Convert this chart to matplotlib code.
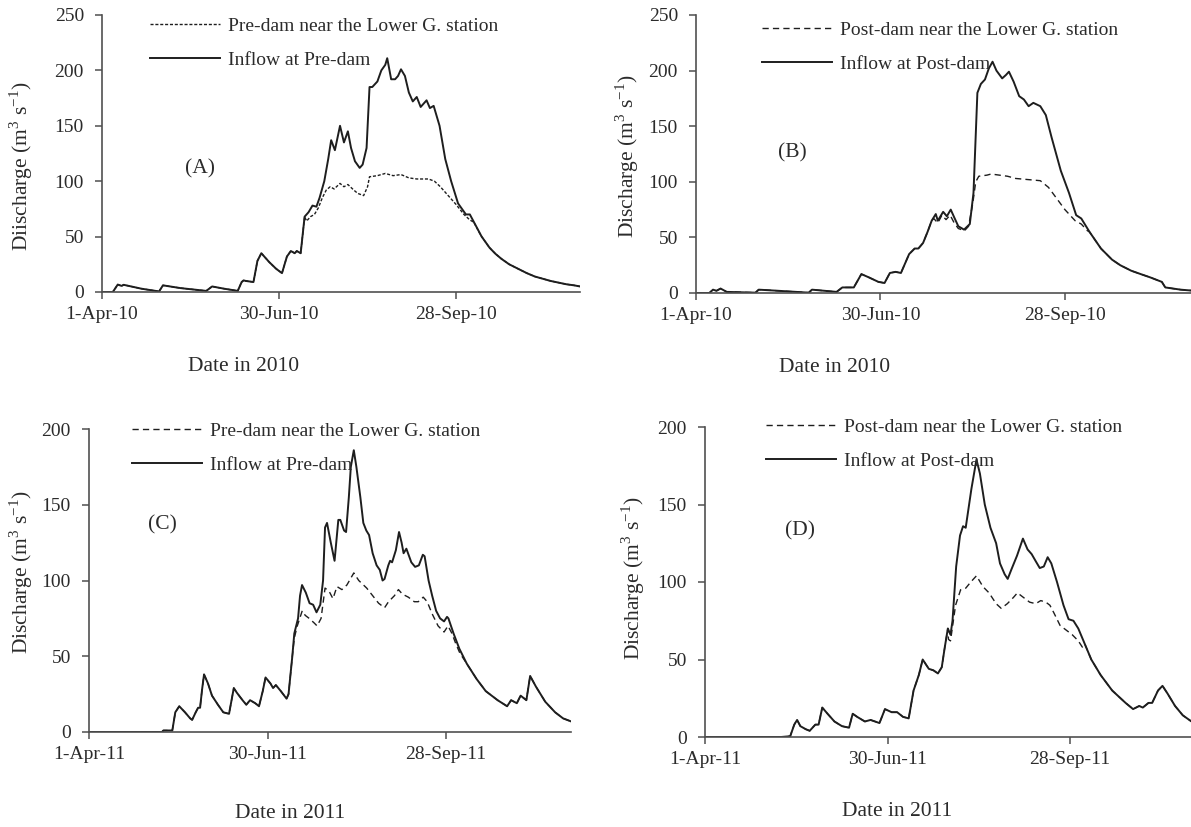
import numpy as np
import matplotlib
matplotlib.use("Agg")
import matplotlib.pyplot as plt
from matplotlib.lines import Line2D

plt.rcParams['font.family'] = ['Liberation Serif', 'DejaVu Serif']
plt.rcParams['mathtext.fontset'] = 'custom'
plt.rcParams['mathtext.rm'] = 'Liberation Serif'

W, H = 1191, 827

# days after 1 April, discharge in m3/s
tick_days = [0, 90, 180]
ticks_2010 = ['1-Apr-10', '30-Jun-10', '28-Sep-10']
ticks_2011 = ['1-Apr-11', '30-Jun-11', '28-Sep-11']

# ---- (A) 2010 pre-dam
A_in_day = [0, 5.5, 8, 10, 11, 20, 29, 31, 40, 53, 56, 62, 69, 71, 72, 73, 77, 79, 81, 85, 88.5,
            91.5, 94, 96, 98, 99, 101, 103, 105, 107, 109, 110.6, 113, 115, 116.5, 118.4, 121, 123,
            125, 126.6, 128.6, 131, 132.5, 134.5, 136, 137.4, 140, 142, 144, 145, 147, 149, 150.5,
            152, 154, 156, 158, 160, 162, 165, 166.7, 168.6, 171.6, 174.5, 177.5, 181, 185, 187,
            190, 193, 197, 200, 203, 207, 212.6, 216, 220, 224, 228, 232, 236, 240, 243]
A_in_q = [0, 0, 6.7, 5.5, 6.5, 3, 0.5, 6, 3.5, 1, 5, 3, 1, 9, 10.5, 10, 9, 28, 35, 27, 21,
          17, 32, 37, 35, 37, 35, 68, 72, 78, 77, 85, 100, 120, 137, 128, 150, 135,
          145, 130, 118, 112, 115, 130, 185, 185, 190, 200, 205, 211, 192, 192, 195,
          201, 195, 180, 172, 176, 167, 173, 166, 168, 150, 120, 100, 80, 70, 70,
          60, 50, 40, 34.5, 30, 25, 20, 17, 14, 12, 10, 8.5, 7, 6, 5]
A_low_day = [104, 106, 108, 110, 112, 114, 116, 118, 121, 123, 125, 128, 130, 133, 135, 136,
             140, 144, 148, 152, 156, 160, 166, 169, 172, 176, 180, 184, 187, 189, 192]
A_low_q = [64, 68, 70, 76, 85, 92, 95, 93, 98, 95, 97, 92, 89, 87, 95, 104,
           105, 107, 105, 106, 103, 102, 102, 100, 95, 87, 79, 70, 65, 63, 53]

# ---- (B) 2010 post-dam
B_in_day = [0, 6.5, 8.3, 10, 12, 15, 29, 30.6, 40, 55, 56.6, 68.6, 71.4, 77, 80.7, 84.4, 89, 92,
            94.6, 97.4, 100, 104, 106.7, 108.5, 110.8, 113, 115, 117, 118, 120.6, 122.4, 124.3,
            126, 128, 130.8, 133.6, 135.4, 137.3, 139, 141, 142.9, 144.7, 146.6, 149.4, 151.2,
            152.7, 155, 157.7, 160, 162.3, 164.6, 168, 170.7, 173.5, 178, 182, 185.5, 188, 192,
            197.6, 203, 207, 212.4, 217, 221.7, 227.3, 229, 236.5, 243]
B_in_q = [0, 0, 3, 2, 4, 1, 0.3, 3, 2, 0.3, 3, 1, 5, 5, 17, 14, 10, 9,
          18, 19, 18, 35, 40, 40, 45, 55, 65, 71, 65, 73, 69, 75,
          68, 60, 57, 62, 90, 180, 188, 192, 202, 208, 200, 193, 196,
          199, 190, 177, 174, 168, 171, 168, 160, 140, 110, 90, 70, 67, 55,
          40, 30, 25, 20, 17, 14, 10, 5, 3, 2]
B_low_day = [116, 118, 120, 122, 124, 126, 128, 131, 133, 135, 136.5, 138, 142, 144, 148, 152,
             156, 162, 168, 172, 176, 180, 185, 188, 191]
B_low_q = [67, 63, 70, 66, 70, 63, 58, 56, 60, 80, 100, 105, 106, 107, 106, 105,
           103, 102, 101, 95, 85, 75, 65, 62, 56]

# ---- (C) 2011 pre-dam
C_in_day = [0, 36.8, 37.5, 42, 43.5, 45.5, 48.4, 51, 52, 53.8, 55, 56, 57, 58, 60, 62, 65, 67.7,
            70.6, 73, 74.5, 77.4, 79.3, 81.2, 83.8, 85.7, 87.6, 89, 91.5, 92.8, 94.2, 96.7, 99.6,
            100.6, 102.5, 103.5, 105.4, 106.4, 107.4, 109.3, 111.2, 113, 114.7, 116.6, 118, 119,
            120, 121.9, 123.8, 125.7, 126.7, 128.6, 129.6, 131, 132, 133.5, 134.8, 136.8, 138.3,
            139.8, 141.2, 143, 145, 146.6, 148, 149, 150.9, 151.8, 152.8, 154.7, 156.3, 157.6,
            158.6, 160, 162.5, 164.4, 166.3, 168.3, 169.2, 171.2, 173, 175, 177, 179, 180.5,
            181.2, 183.8, 186.7, 190.5, 195.4, 200, 206, 210.8, 212.8, 215.7, 217.6, 220.5,
            222.4, 225.3, 230, 235, 239, 243]
C_in_q = [0, 0, 1, 1, 13, 17, 13, 9, 8, 13, 16, 16, 28, 38, 32, 24, 18, 13,
          12, 29, 26, 21, 18, 21, 19, 17, 27, 36, 32, 29, 31, 27, 22,
          25, 50, 65, 75, 90, 97, 92, 85, 84, 79, 84, 100, 135,
          138, 125, 113, 140, 140, 133, 132, 155, 175, 186, 175, 155, 138,
          133, 130, 118, 110, 107, 100, 101, 110, 113, 112, 120, 132, 125,
          118, 121, 112, 109, 110, 117, 116, 100, 90, 80, 75, 73, 76,
          75, 65, 55, 45, 35, 27, 21, 17, 21, 19, 24, 21,
          37, 30, 20, 13, 9, 7]
C_low_day = [103.5, 105, 107.5, 109, 111, 113.5, 115, 117, 119, 121, 123, 125, 127.5, 130, 133.5,
             136, 140, 143, 146, 149, 151, 154, 156, 158, 161, 164, 166, 168.5, 170.5, 173, 176,
             179, 181, 183, 185, 187]
C_low_q = [62, 70, 80, 77, 75, 72, 70, 75, 95, 93, 88, 96, 94, 97, 105,
           100, 95, 90, 85, 82, 86, 90, 94, 91, 89, 86, 86, 89, 86, 78, 70,
           66, 70, 65, 58, 52]

# ---- (D) 2011 post-dam
D_in_day = [0, 37.5, 42, 44, 45.4, 47, 49.7, 51.6, 54.4, 56, 57.8, 60.4, 63.8, 67.5, 71, 72.8, 75,
            78.8, 81.6, 86, 88.7, 92, 94.7, 97.6, 100.4, 102.8, 105.4, 107.3, 110.3, 112.6, 114.8,
            116.7, 118.2, 119.7, 121, 122, 123.8, 125.7, 127.2, 128.5, 131.3, 133.8, 135.5, 137.9,
            140.7, 143.5, 145.4, 147.7, 149.2, 151, 153.8, 156.7, 159, 161, 163.2, 165, 167, 168.9,
            170.7, 173.5, 176.7, 179.2, 181.6, 184, 187.2, 190.4, 195, 200.7, 207.3, 211, 214,
            215.8, 218.6, 220.4, 223.3, 225.5, 228, 231.7, 235.5, 239.8, 243]
D_in_q = [0, 0, 0.5, 8, 11, 7, 5, 4, 8, 8, 19, 15, 10, 7, 6, 15, 13,
          10, 11, 9, 18, 16, 16, 13, 12, 30, 40, 50, 44, 43, 41,
          45, 58, 70, 66, 75, 110, 130, 136, 135, 160, 179, 170, 150,
          135, 125, 112, 105, 102, 108, 117, 128, 121, 118, 113, 109, 110, 116,
          112, 100, 85, 76, 75, 70, 60, 50, 40, 30, 22, 18, 20,
          19, 22, 22, 30, 33, 28, 20, 14, 10, 8]
D_low_day = [120, 121, 123.5, 126, 128.5, 131, 133.8, 137, 140, 143.5, 146, 149, 152, 154, 157,
             160, 163, 165.5, 168, 170, 172, 175, 178, 181, 184, 186]
D_low_q = [63, 62, 85, 95, 96, 100, 104, 97, 93, 86, 83, 86, 90, 93, 90,
           87, 86, 88, 87, 85, 80, 72, 69, 66, 62, 58]


def lower_series(in_day, in_q, low_day, low_q):
    # below the divergence the two lines share the same values
    d = np.array(in_day)
    q = np.array(in_q)
    before = d < low_day[0]
    after = d > low_day[-1]
    days = np.concatenate([d[before], low_day, d[after]])
    vals = np.concatenate([q[before], low_q, q[after]])
    return days, vals


panels = [
    dict(d=(A_in_day, A_in_q, A_low_day, A_low_q), ymax=250, ystep=50, tl=ticks_2010, tag='(A)',
         tagpos=(50, 111), yl='Diischarge (m$^3$ s$^{-1}$)',
         leg=('Pre-dam near the Lower G. station', 'Inflow at Pre-dam'),
         box=(102, 580, 15, 292), dash=(0, (2.2, 1.3)), ylp=(21, 166), xlp=(244, 367), lp=(150, 17),
         xl='Date in 2010'),
    dict(d=(B_in_day, B_in_q, B_low_day, B_low_q), ymax=250, ystep=50, tl=ticks_2010, tag='(B)',
         tagpos=(47, 126), yl='Discharge (m$^3$ s$^{-1}$)',
         leg=('Post-dam near the Lower G. station', 'Inflow at Post-dam'),
         box=(696, 1194, 15, 293), dash=(0, (4.5, 3)), ylp=(627, 156), xlp=(835, 368), lp=(762, 21),
         xl='Date in 2010'),
    dict(d=(C_in_day, C_in_q, C_low_day, C_low_q), ymax=200, ystep=50, tl=ticks_2011, tag='(C)',
         tagpos=(37, 137), yl='Discharge (m$^3$ s$^{-1}$)',
         leg=('Pre-dam near the Lower G. station', 'Inflow at Pre-dam'),
         box=(89, 571, 429, 732), dash=(0, (4.5, 3)), ylp=(21, 572), xlp=(290, 813), lp=(132, 422),
         xl='Date in 2011'),
    dict(d=(D_in_day, D_in_q, D_low_day, D_low_q), ymax=200, ystep=50, tl=ticks_2011, tag='(D)',
         tagpos=(47, 133), yl='Discharge (m$^3$ s$^{-1}$)',
         leg=('Post-dam near the Lower G. station', 'Inflow at Post-dam'),
         box=(705, 1198, 427, 737), dash=(0, (4.5, 3)), ylp=(633, 578), xlp=(897, 811), lp=(766, 418),
         xl='Date in 2011'),
]

txt = '#2b2b2b'
ln = '#1e1e1e'
fig = plt.figure(figsize=(W / 100, H / 100), dpi=100)

for p in panels:
    l, r, t, b = p['box']
    ax = fig.add_axes([l / W, 1 - b / H, (r - l) / W, (b - t) / H])
    in_day, in_q, low_day, low_q = p['d']
    ld, lq = lower_series(in_day, in_q, low_day, low_q)
    ax.plot(ld, lq, color=ln, lw=1.0, linestyle=p['dash'])
    ax.plot(in_day, in_q, color=ln, lw=1.4)

    ax.set_xlim(0, 243)
    ax.set_ylim(0, p['ymax'])
    ax.set_yticks(np.arange(0, p['ymax'] + 1, p['ystep']))
    ax.set_xticks(tick_days)
    ax.set_xticklabels(p['tl'])
    for s in ['top', 'right']:
        ax.spines[s].set_visible(False)
    for s in ['left', 'bottom']:
        ax.spines[s].set_color('#505050')
        ax.spines[s].set_linewidth(1.2)
    ax.tick_params(direction='out', length=5, width=1.1, color='#505050',
                   labelsize=14, labelcolor=txt)
    ax.tick_params(axis='y', pad=8)
    ax.tick_params(axis='x', pad=5)
    ax.text(p['tagpos'][0], p['tagpos'][1], p['tag'], fontsize=15.5, color=txt,
            ha='center', va='center')

    fig.text(p['ylp'][0] / W, 1 - p['ylp'][1] / H, p['yl'], rotation=90, fontsize=15.5,
             color=txt, ha='center', va='center')
    fig.text(p['xlp'][0] / W, 1 - p['xlp'][1] / H, p['xl'], fontsize=15.5,
             color=txt, ha='center', va='center')

    handles = [Line2D([], [], color=ln, lw=1.0, linestyle=p['dash']),
               Line2D([], [], color=ln, lw=1.4)]
    ax.legend(handles, p['leg'], loc='upper left',
              bbox_to_anchor=(p['lp'][0] / W, 1 - p['lp'][1] / H),
              bbox_transform=fig.transFigure, frameon=False, fontsize=14,
              handlelength=3.6, handletextpad=0.4, labelspacing=0.86,
              borderpad=0, borderaxespad=0, labelcolor=txt)

fig.savefig('out.png', dpi=100)
